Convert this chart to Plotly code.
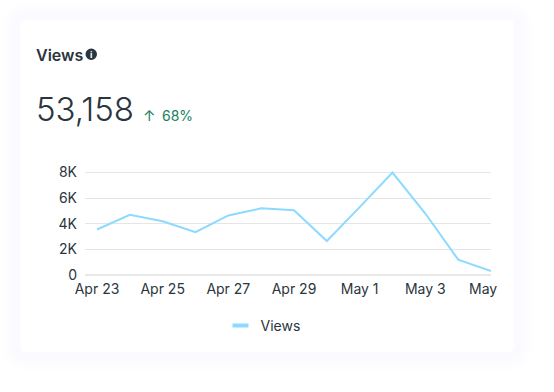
import plotly.graph_objects as go

W, H = 554, 392
dates = ["Apr 23", "Apr 24", "Apr 25", "Apr 26", "Apr 27", "Apr 28", "Apr 29",
         "Apr 30", "May 1", "May 2", "May 3", "May 4", "May 5"]
views = [3550, 4700, 4200, 3350, 4650, 5200, 5050, 2650, 5300, 8000, 4800, 1200, 300]
x_tick_values = ["Apr 23", "Apr 25", "Apr 27", "Apr 29", "May 1", "May 3", "May 5"]
x_tick_labels = ["Apr 23", "Apr 25", "Apr 27", "Apr 29", "May 1", "May 3", "May\u00a0\u00a0\u00a0\u00a0"]
y_tick_values = [0, 2000, 4000, 6000, 8000]
y_tick_labels = ["0", "2K", "4K", "6K", "8K"]

FONT = "Inter, 'Liberation Sans', sans-serif"
DARK = "#2a3540"
LINE = "#8cdaff"
GREEN = "#1a7f5e"


def px(x):
    return x / W


def py(y):
    return 1 - y / H


def rounded(x0, y0, x1, y1, r):
    return (f"M{px(x0 + r)},{py(y0)} L{px(x1 - r)},{py(y0)} "
            f"Q{px(x1)},{py(y0)} {px(x1)},{py(y0 + r)} L{px(x1)},{py(y1 - r)} "
            f"Q{px(x1)},{py(y1)} {px(x1 - r)},{py(y1)} L{px(x0 + r)},{py(y1)} "
            f"Q{px(x0)},{py(y1)} {px(x0)},{py(y1 - r)} L{px(x0)},{py(y0 + r)} "
            f"Q{px(x0)},{py(y0)} {px(x0 + r)},{py(y0)} Z")


shapes = []
for grow, colour in [(18, "#feFEFF"), (15, "#fdfdff"), (12, "#fcfcff"), (8, "#fbfbff"), (4, "#fafaff")]:
    shapes.append(dict(type="path", xref="paper", yref="paper", layer="below",
                       path=rounded(20 - grow, 20 - grow, 514 + grow, 352 + grow, 8 + grow),
                       fillcolor=colour, line_width=0))
shapes.append(dict(type="path", xref="paper", yref="paper", layer="below",
                   path=rounded(20, 20, 514, 352, 5), fillcolor="#ffffff", line_width=0))
# info icon disc
shapes.append(dict(type="circle", xref="paper", yref="paper", layer="below",
                   x0=px(85.5), x1=px(97), y0=py(60), y1=py(48.5),
                   fillcolor=DARK, line_width=0))


def note(x, y, text, size, color=DARK, anchor="left", weight=400):
    return dict(xref="paper", yref="paper", x=px(x), y=py(y), text=text, showarrow=False,
                xanchor=anchor, yanchor="middle", borderpad=0,
                font=dict(family=FONT, size=size, color=color, weight=weight))


annotations = [
    note(35, 54.5, "Views", 16, weight=600),
    note(91.2, 54.5, "<b>i</b>", 9, "#ffffff", "center"),
    note(35, 108.5, "53,158", 33, weight=300),
    note(142, 115, "↑", 15, GREEN),
    note(161, 115, "68%", 14, GREEN),
]

fig = go.Figure()
fig.add_trace(go.Scatter(x=dates, y=views, mode="lines", name="Views", showlegend=False,
                         legendgroup="views", cliponaxis=False,
                         line=dict(color=LINE, width=2)))
fig.add_trace(go.Scatter(x=[None], y=[None], mode="markers", name="Views", legendgroup="views",
                         marker=dict(symbol="line-ew", size=11.4, color=LINE,
                                     line=dict(color=LINE, width=4))))
fig.update_layout(
    width=W, height=H, margin=dict(l=0, r=0, t=0, b=0, pad=0, autoexpand=False),
    paper_bgcolor="#ffffff", plot_bgcolor="rgba(0,0,0,0)",
    font=dict(family=FONT, size=14, color=DARK),
    shapes=shapes, annotations=annotations,
    showlegend=True,
    legend=dict(x=px(263), y=py(326), xanchor="center", yanchor="middle",
                orientation="h", bgcolor="rgba(0,0,0,0)", itemwidth=30,
                font=dict(family=FONT, size=14, color=DARK)),
    xaxis=dict(domain=[px(85), px(491)], type="category", categoryorder="array",
               categoryarray=dates, range=[-0.366, 12], tickmode="array",
               tickvals=x_tick_values, ticktext=x_tick_labels, showgrid=False,
               zeroline=False, showline=False, ticks="", tickangle=0, automargin=False,
               anchor="y", ticklabelstandoff=4, tickfont=dict(size=14, color=DARK)),
    yaxis=dict(domain=[py(275), py(168.5)], range=[0, 8312], tickmode="array",
               tickvals=y_tick_values, ticktext=y_tick_labels, showgrid=True, automargin=False,
               gridcolor="#e5e5e5", gridwidth=1, zeroline=True, zerolinecolor="#e8e8e8",
               zerolinewidth=2, ticks="", ticklabelstandoff=7,
               tickfont=dict(size=14, color=DARK)),
)
fig.write_html("out.html", config=dict(displayModeBar=False),
               post_script="document.body.style.margin='0';")
